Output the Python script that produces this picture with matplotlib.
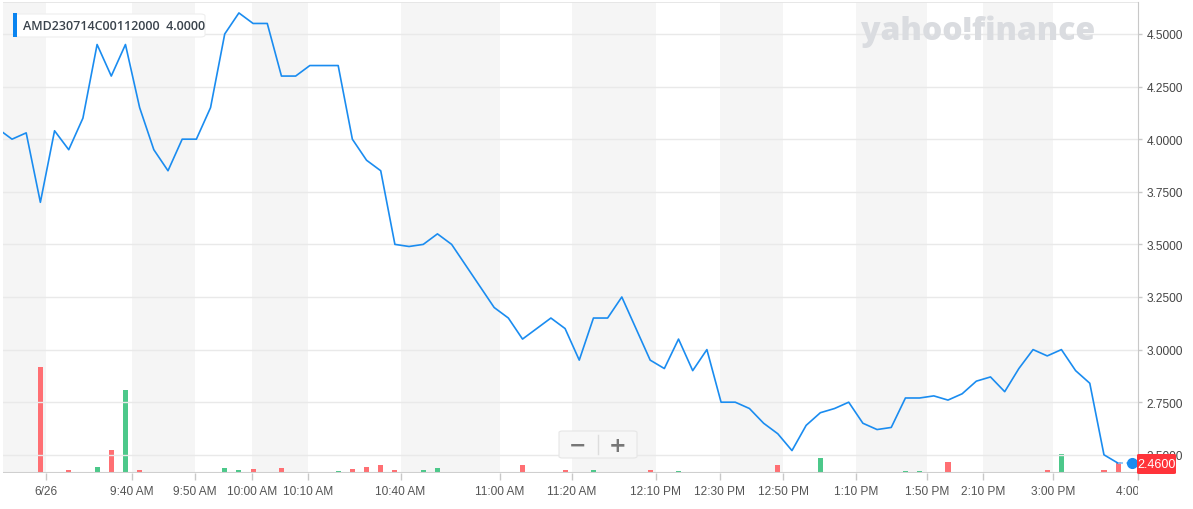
import matplotlib.pyplot as plt
import matplotlib.patches as mpatches
import matplotlib.transforms as mtransforms

# price per bar (index -1 sits just left of the visible area)
price = [4.05, 4.00, 4.03, 3.70, 4.04, 3.95, 4.10, 4.45, 4.30, 4.45, 4.15,
         3.95, 3.85, 4.00, 4.00, 4.15, 4.50, 4.60, 4.55, 4.55, 4.30,
         4.30, 4.35, 4.35, 4.35, 4.00, 3.90, 3.85, 3.50, 3.49, 3.50,
         3.55, 3.50, 3.40, 3.30, 3.20, 3.15, 3.05, 3.10, 3.15, 3.10,
         2.95, 3.15, 3.15, 3.25, 3.10, 2.95, 2.91, 3.05, 2.90, 3.00,
         2.75, 2.75, 2.72, 2.65, 2.60, 2.52, 2.64, 2.70, 2.72, 2.75,
         2.65, 2.62, 2.63, 2.77, 2.77, 2.78, 2.76, 2.79, 2.85, 2.87,
         2.80, 2.91, 3.00, 2.97, 3.00, 2.90, 2.84, 2.50, 2.46]
idx = list(range(-1, len(price) - 1))
last_price = 2.46

# volume bars: index, volume, up(1)/down(0)
vol_idx = [0, 2, 4, 5, 6, 7, 8, 9, 10, 12, 13, 14, 15, 16, 17, 19, 21, 22, 23, 24, 25, 26, 27,
           28, 29, 30, 33, 35, 36, 39, 41, 45, 46, 47, 52, 53, 54,
           56, 57, 58, 62, 63, 64, 65, 66, 67, 69, 70, 72, 73, 74, 77, 78]
vol = [0.1, 32, 1.0, 0.1, 1.9, 7.0, 25, 1.0, 0.4, 0.1, 0.4, 0.4, 1.6, 1.0, 1.3, 1.6, 0.4, 0.1, 0.7, 1.3, 1.9, 2.5, 1.0,
       0.3, 1.0, 1.5, 0.1, 0.4, 2.5, 1.0, 1.0, 1.0, 0.4, 0.7, 0.4, 0.4, 2.5,
       0.1, 4.5, 0.4, 0.1, 0.6, 0.6, 0.4, 3.4, 0.1, 0.1, 0.4, 0.1, 1.0, 5.7, 1.0, 3.4]
vol_up = [0, 0, 0, 1, 1, 0, 1, 0, 0, 1, 1, 1, 1, 1, 0, 0, 1, 1, 1, 0, 0, 0, 0,
          0, 1, 1, 1, 0, 0, 0, 1, 0, 0, 1, 0, 0, 0,
          1, 1, 1, 1, 1, 1, 1, 0, 1, 1, 0, 1, 0, 1, 0, 0]

tick_pos = [2.4, 8.45, 12.9, 16.9, 20.9, 27.4, 34.4, 39.5, 45.4, 49.9, 54.4, 59.5, 64.5, 68.5, 73.4, 79.4]
tick_lab = ['6/26', '9:40 AM', '9:50 AM', '10:00 AM', '10:10 AM', '10:40 AM', '11:00 AM', '11:20 AM',
            '12:10 PM', '12:30 PM', '12:50 PM', '1:10 PM', '1:50 PM', '2:10 PM', '3:00 PM', '4:00 PM']
y_ticks = [2.5, 2.75, 3.0, 3.25, 3.5, 3.75, 4.0, 4.25, 4.5]

W, H = 1193, 510
fig = plt.figure(figsize=(W / 100, H / 100), dpi=100)
ax = fig.add_axes([3 / W, 36 / H, 1135 / W, 471 / H])
x0, x1 = -0.635, 79.4
ax.set_xlim(x0, x1)
ax.set_ylim(2.4135, 4.652)

# volume on a twin axis (also carries the background bands)
vax = ax.twinx()
vax.set_ylim(0, 142)
vax.set_axis_off()
edges = [x0] + tick_pos
for i in range(len(edges) - 1):
    if i % 2 == 0:
        vax.axvspan(edges[i], edges[i + 1], color='#f5f5f5', lw=0, zorder=0)
for i, v, u in zip(vol_idx, vol, vol_up):
    c = '#4cc88a' if u else '#ff6f73'
    a = 0.25 if v < 0.2 else 1.0
    vax.bar(i, max(v, 0.25), width=0.36, color=c, alpha=a, lw=0, zorder=2)

ax.set_zorder(vax.get_zorder() + 1)
ax.patch.set_visible(False)
for yt in y_ticks:
    ax.axhline(yt, color='#e9e9e9', lw=1, zorder=1)
ax.plot(idx, price, color='#1a8cf0', lw=1.2, zorder=5, clip_on=True)
ax.plot([idx[-1], idx[-1] + 1], [last_price, last_price], color='#7fc0f7', lw=1.2, ls=(0, (3, 2)), zorder=5)
ax.plot(idx[-1] + 1, last_price, 'o', color='#1a8cf0', ms=7, zorder=6, clip_on=False)

# axes styling
for s in ['left', 'bottom', 'top']:
    ax.spines[s].set_visible(False)
ax.spines['right'].set_color('#c8c8c8')
ax.axhline(4.652, color='#e3e3e3', lw=1.2, zorder=1)
ax.axhline(2.4135, color='#cfcfcf', lw=1.5, zorder=6)
ax.yaxis.tick_right()
ax.set_yticks(y_ticks)
ax.set_yticklabels([f'{t:.4f}' for t in y_ticks], family='Liberation Sans')
ax.tick_params(axis='y', length=3, width=1, color='#c8c8c8', labelsize=8.6, labelcolor='#444444', pad=3)
ax.set_xticks(tick_pos)
ax.set_xticklabels(tick_lab, family='Liberation Sans')
ax.tick_params(axis='x', length=5, width=1, color='#c8c8c8', labelsize=8.6, labelcolor='#555555', pad=4)
for lab in ax.get_xticklabels()[-1:]:
    lab.set_clip_on(True)
    lab.set_clip_box(mtransforms.TransformedBbox(mtransforms.Bbox([[0, -0.2], [1, 1]]), ax.transAxes))

# legend box
fig.patches.append(mpatches.FancyBboxPatch((14 / W, (H - 38) / H), 191 / W, 23 / H,
                                           boxstyle='round,pad=0,rounding_size=0.004',
                                           transform=fig.transFigure, fc='white', ec='#eeeeee', lw=0.8, zorder=10))
fig.patches.append(mpatches.Rectangle((13 / W, (H - 38) / H), 4 / W, 24 / H,
                                      transform=fig.transFigure, fc='#0a84f0', lw=0, zorder=11))
fig.text(23 / W, (H - 26.5) / H, 'AMD230714C00112000  4.0000', fontsize=9, color='#3a434c',
         fontweight='semibold', family='Open Sans', va='center', ha='left', zorder=12)

# watermark
fig.text(978 / W, (H - 32) / H, 'yahoo!finance', fontsize=23, color='#dadce0', fontweight='heavy',
         family='Open Sans', ha='center', va='center', zorder=3)

# zoom buttons
fig.patches.append(mpatches.FancyBboxPatch((559 / W, (H - 459) / H), 78 / W, 27 / H,
                                           boxstyle='round,pad=0,rounding_size=0.003',
                                           transform=fig.transFigure, fc='#f7f7f7', ec='#e6e6e6', lw=0.8, zorder=10))
fig.add_artist(plt.Line2D([598 / W, 598 / W], [(H - 455) / H, (H - 436) / H], color='#dddddd', lw=1, zorder=11))
fig.text(578 / W, (H - 446) / H, '\u2212', fontsize=15, color='#777777', fontweight='bold',
         ha='center', va='center', zorder=12)
fig.text(618 / W, (H - 446) / H, '+', fontsize=15, color='#777777', fontweight='bold',
         ha='center', va='center', zorder=12)

# last price tag
fig.patches.append(mpatches.FancyBboxPatch((1137 / W, (H - 475) / H), 39 / W, 20 / H,
                                           boxstyle='round,pad=0,rounding_size=0.002',
                                           transform=fig.transFigure, fc='#ff333a', lw=0, zorder=10))
fig.text(1156.5 / W, (H - 465) / H, f'{last_price:.4f}', fontsize=9, color='white',
         family='Liberation Sans', ha='center', va='center', zorder=12)

fig.savefig('out.png', dpi=100)
